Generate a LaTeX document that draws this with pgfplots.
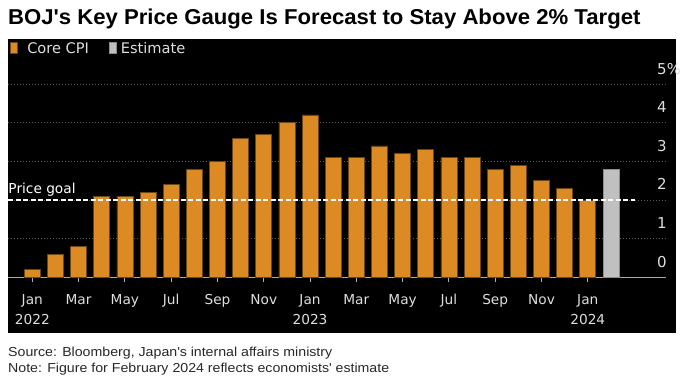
\documentclass[border=0pt]{standalone}
\usepackage{pgfplots}
\pgfplotsset{compat=1.18}
\usepackage{fontspec}
\setmainfont{Liberation Sans}
\newfontfamily\titlefont[FakeStretch=1.03]{Liberation Sans}
\newfontfamily\footfont[FakeStretch=1.09]{Liberation Sans}
\newfontfamily\chartfont{DejaVu Sans}
\definecolor{cpi}{RGB}{220,138,36}
\definecolor{cpiedge}{RGB}{110,70,20}
\definecolor{est}{RGB}{192,192,192}
\definecolor{estedge}{RGB}{140,140,140}
\definecolor{gridc}{RGB}{90,90,90}
\definecolor{axisc}{RGB}{170,170,170}
\definecolor{lbl}{RGB}{222,222,222}
\definecolor{foot}{RGB}{40,40,40}
\begin{document}
\begin{tikzpicture}[x=1pt,y=1pt]
\fill[white] (0,0) rectangle (692,383);
\fill[black] (8.3,49.7) rectangle (676,343.7);
\node[anchor=base west, inner sep=0pt, font=\titlefont\bfseries\fontsize{21.5}{25}\selectfont] at (8,358) {BOJ\textquotesingle s Key Price Gauge Is Forecast to Stay Above 2\% Target};
\node[anchor=base west, inner sep=0pt, text=foot, font=\footfont\fontsize{13}{15}\selectfont] at (8,27) {Source: Bloomberg, Japan\textquotesingle s internal affairs ministry};
\node[anchor=base west, inner sep=0pt, text=foot, font=\footfont\fontsize{13}{15}\selectfont] at (8,11) {Note: Figure for February 2024 reflects economists\textquotesingle{} estimate};
\begin{axis}[
  ybar, bar width=16pt,
  at={(8pt,105.7pt)}, anchor=south west,
  scale only axis, width=658pt, height=193.3pt,
  xmin=-1.05, xmax=27.38, ymin=0, ymax=5,
  enlargelimits=false,
  axis x line*=bottom, axis y line*=right,
  x axis line style={draw=axisc, line width=1pt},
  y axis line style={draw=none},
  xtick={0,2,...,24},
  xticklabels={Jan\\2022,Mar,May,Jul,Sep,Nov,Jan\\2023,Mar,May,Jul,Sep,Nov,Jan\\2024},
  xtick style={draw=axisc, line width=1pt},
  tick align=outside, major tick length=5pt,
  ytick={0,1,2,3,4,5}, yticklabels={0,1,2,3,4,5\%},
  ytick style={draw=none},
  ymajorgrids, grid style={draw=gridc, dash pattern=on 1pt off 2pt, line width=0.9pt},
  xticklabel style={font=\chartfont\fontsize{13.7}{20}\selectfont, text=lbl, align=center, anchor=north, inner sep=0pt, yshift=-11.7pt},
  yticklabel style={font=\chartfont\fontsize{15}{18}\selectfont, text=lbl, anchor=base west, inner sep=0pt, xshift=-14pt, yshift=10pt},
  legend style={at={(axis description cs:0.00304,1.2173)}, anchor=north west, draw=none, fill=none, inner sep=0pt, outer sep=0pt, text=lbl, font=\chartfont\fontsize{14.6}{18}\selectfont, column sep=0pt, nodes={inner sep=0pt, anchor=base west}},
  legend columns=2,
  legend image code/.code={\path[#1] (0pt,0.3pt) rectangle (6.7pt,11.3pt);},
]
\addplot[fill=cpi, draw=cpiedge, line width=0.6pt, bar shift=0pt] coordinates {(0,0.2) (1,0.6) (2,0.8) (3,2.1) (4,2.1) (5,2.2) (6,2.4) (7,2.8) (8,3.0) (9,3.6) (10,3.7) (11,4.0) (12,4.2) (13,3.1) (14,3.1) (15,3.4) (16,3.2) (17,3.3) (18,3.1) (19,3.1) (20,2.8) (21,2.9) (22,2.5) (23,2.3) (24,2.0)};
\addlegendentry{\kern10pt Core CPI\kern20pt}
\addplot[fill=est, draw=estedge, line width=0.6pt, bar shift=0pt] coordinates {(25,2.8)};
\addlegendentry{\kern4.5pt Estimate}
\addplot[forget plot, sharp plot, white, dash pattern=on 5pt off 2.5pt, line width=1.3pt] coordinates {(-1.05,2) (26.05,2)};
\node[anchor=base west, inner sep=0pt, text=white, font=\chartfont\fontsize{13.7}{18}\selectfont, xshift=0.3pt, yshift=6.4pt] at (axis cs:-1.05,2) {Price goal};
\end{axis}
\end{tikzpicture}
\end{document}
